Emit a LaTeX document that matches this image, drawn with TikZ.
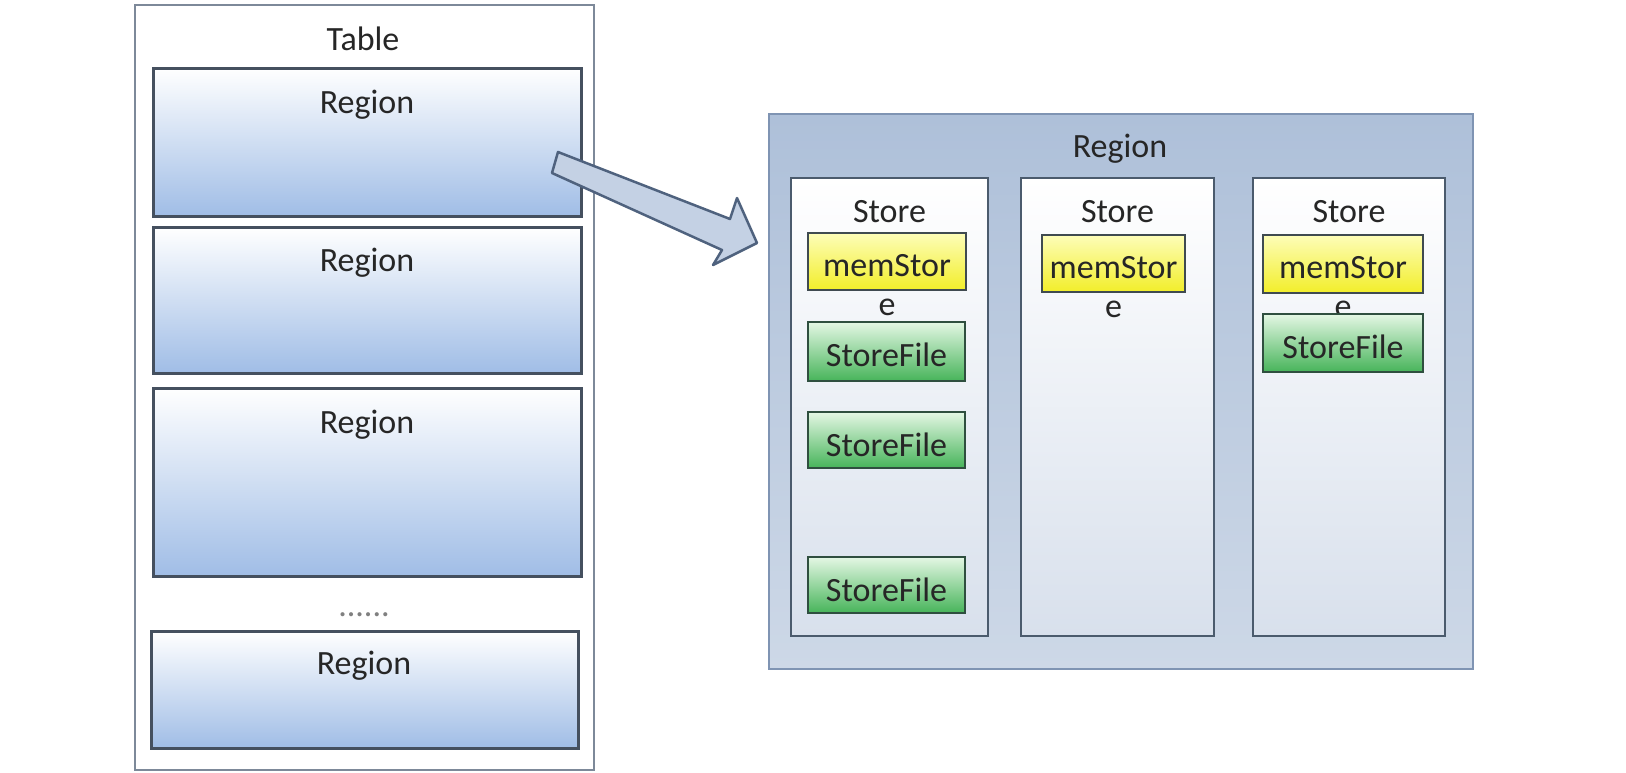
\documentclass[tikz,border=0pt]{standalone}
\usepackage{fontspec}
\setmainfont{Carlito}
\definecolor{txt}{HTML}{262626}
\definecolor{tblborder}{HTML}{7D8999}
\definecolor{regborder}{HTML}{45505F}
\definecolor{regblue}{HTML}{A0BDE6}
\definecolor{bigborder}{HTML}{7F94B3}
\definecolor{bigtop}{HTML}{AEC0D9}
\definecolor{bigbot}{HTML}{CDD8E7}
\definecolor{storeborder}{HTML}{4B5B6D}
\definecolor{storebot}{HTML}{D8E0EC}
\definecolor{yeltop}{HTML}{FDFDB8}
\definecolor{yelbot}{HTML}{F2EE2A}
\definecolor{yelborder}{HTML}{3F4A50}
\definecolor{grntop}{HTML}{E4F7E4}
\definecolor{grnbot}{HTML}{47B45A}
\definecolor{grnborder}{HTML}{2F4F3F}
\definecolor{arrfill}{HTML}{C4D1E4}
\definecolor{arrborder}{HTML}{4F627E}
\begin{document}
\begin{tikzpicture}[x=1pt,y=-1pt,
  box/.style={rectangle, inner sep=0, outer sep=0, anchor=north west},
  tablebox/.style={box, draw=tblborder, fill=white, line width=2.2pt},
  regbox/.style={box, draw=regborder, line width=3pt, top color=white, bottom color=regblue},
  bigbox/.style={box, draw=bigborder, line width=2.5pt, top color=bigtop, bottom color=bigbot},
  storebox/.style={box, draw=storeborder, line width=2.8pt, top color=white, bottom color=storebot},
  membox/.style={box, draw=yelborder, line width=2.8pt, top color=yeltop, bottom color=yelbot},
  filebox/.style={box, draw=grnborder, line width=2.8pt, top color=grntop, bottom color=grnbot},
  lbl/.style={font=\fontsize{34}{40}\selectfont, text=txt, inner sep=0, anchor=base}
]
\useasboundingbox (0,0) rectangle (1626,772);

% ---- left: table ----
\node[tablebox, minimum width=459pt, minimum height=765pt] (table) at (135,5) {};
\node[lbl] (tablelbl) at (363,50) {Table};

\node[regbox, minimum width=428pt, minimum height=148pt] (r1) at (153,68) {};
\node[lbl] (r1lbl) at (367,113) {Region};
\node[regbox, minimum width=428pt, minimum height=146pt] (r2) at (153,227) {};
\node[lbl] (r2lbl) at (367,271) {Region};
\node[regbox, minimum width=428pt, minimum height=188pt] (r3) at (153,388) {};
\node[lbl] (r3lbl) at (367,433) {Region};
\node[lbl, text=gray] (dots) at (364,616) {......};
\node[regbox, minimum width=427pt, minimum height=117pt] (r4) at (151,631) {};
\node[lbl] (r4lbl) at (364,674) {Region};

% ---- right: region ----
\node[bigbox, minimum width=704pt, minimum height=555pt] (big) at (769,114) {};
\node[lbl] (biglbl) at (1120,157) {Region};

\node[storebox, minimum width=197pt, minimum height=458pt] (s1) at (791,178) {};
\node[storebox, minimum width=193pt, minimum height=458pt] (s2) at (1021,178) {};
\node[storebox, minimum width=192pt, minimum height=458pt] (s3) at (1253,178) {};
\node[lbl] (s1lbl) at (889.5,222) {Store};
\node[lbl] (s2lbl) at (1117.5,222) {Store};
\node[lbl] (s3lbl) at (1349,222) {Store};

\node[membox, minimum width=158pt, minimum height=57pt] (m1) at (808,233) {};
\node[membox, minimum width=143pt, minimum height=57pt] (m2) at (1042,235) {};
\node[membox, minimum width=160pt, minimum height=58pt] (m3) at (1263,235) {};
\node[lbl] (m1a) at (887,276) {memStor};
\node[lbl] (m1b) at (887,315) {e};
\node[lbl] (m2a) at (1113.5,278) {memStor};
\node[lbl] (m2b) at (1113.5,317) {e};
\node[lbl] (m3a) at (1343,278) {memStor};
\node[lbl] (m3b) at (1343,317) {e};

\node[filebox, minimum width=157pt, minimum height=59pt] (f1) at (808,322) {};
\node[lbl] (f1lbl) at (886.5,366) {StoreFile};
\node[filebox, minimum width=157pt, minimum height=56pt] (f2) at (808,412) {};
\node[lbl] (f2lbl) at (886.5,456) {StoreFile};
\node[filebox, minimum width=157pt, minimum height=56pt] (f3) at (808,557) {};
\node[lbl] (f3lbl) at (886.5,601) {StoreFile};
\node[filebox, minimum width=160pt, minimum height=58pt] (f4) at (1263,314) {};
\node[lbl] (f4lbl) at (1343,358) {StoreFile};

% ---- block arrow ----
\coordinate (atailtop) at (558,152);
\coordinate (atailbot) at (552,173);
\coordinate (aneckt) at (730,219);
\coordinate (abarbt) at (737,198);
\coordinate (atip) at (757,243);
\coordinate (abarbb) at (713,265);
\coordinate (aneckb) at (722,250);
\draw[fill=arrfill, draw=arrborder, line width=2.5pt, line join=round]
  (atailtop) -- (aneckt) -- (abarbt) -- (atip) -- (abarbb) -- (aneckb) -- (atailbot) -- cycle;
\end{tikzpicture}
\end{document}
